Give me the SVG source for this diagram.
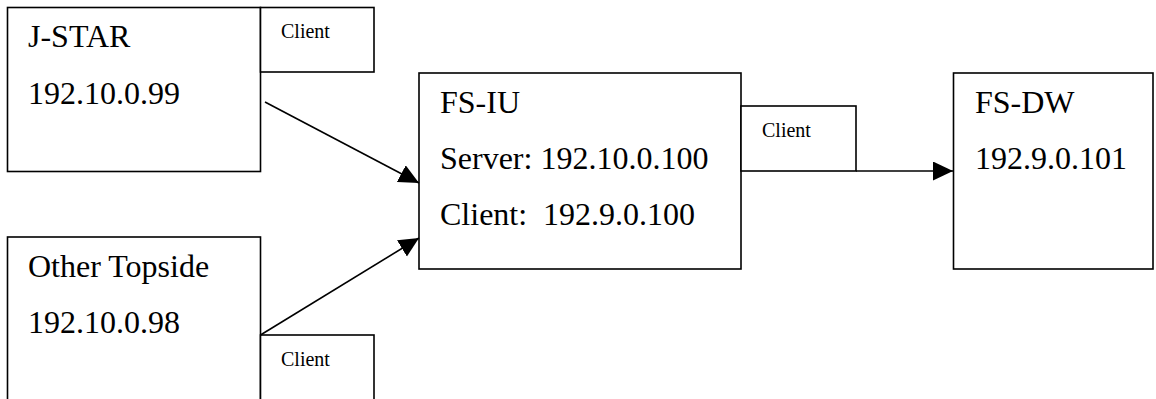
<svg xmlns="http://www.w3.org/2000/svg" width="1156" height="399" viewBox="0 0 1156 399">
  <style>
    .box { fill: #ffffff; stroke: #000000; stroke-width: 1.6; }
    .big { font-family: "Liberation Serif", "Times New Roman", serif; font-size: 32px; fill: #000000; white-space: pre; }
    .small { font-family: "Liberation Serif", "Times New Roman", serif; font-size: 20px; fill: #000000; }
    .link { fill: none; stroke: #000000; stroke-width: 1.6; }
  </style>
  <defs>
    <marker id="arrow" markerUnits="userSpaceOnUse" markerWidth="22" markerHeight="20" refX="20" refY="9.5" orient="auto">
      <path d="M0,0 L20,9.5 L0,19 Z" fill="#000000"/>
    </marker>
  </defs>
  <rect width="1156" height="399" fill="#ffffff"/>

  <g id="jstar">
    <rect class="box" x="7.5" y="7.5" width="253" height="164"/>
    <text class="big" x="28" y="47">J-STAR</text>
    <text class="big" x="28" y="104">192.10.0.99</text>
  </g>
  <g id="jstar-client">
    <rect class="box" x="260.5" y="7.5" width="113.5" height="64.5"/>
    <text class="small" x="281" y="38">Client</text>
  </g>

  <g id="other-topside">
    <rect class="box" x="7.5" y="237" width="253" height="180"/>
    <text class="big" x="28" y="277">Other Topside</text>
    <text class="big" x="28" y="333">192.10.0.98</text>
  </g>
  <g id="other-topside-client">
    <rect class="box" x="260.5" y="335" width="113.5" height="80"/>
    <text class="small" x="281" y="366">Client</text>
  </g>

  <g id="fs-iu">
    <rect class="box" x="419" y="73" width="322" height="196"/>
    <text class="big" x="440" y="113">FS-IU</text>
    <text class="big" x="440" y="169">Server: 192.10.0.100</text>
    <text class="big" x="440" y="225">Client:  192.9.0.100</text>
  </g>
  <g id="fs-iu-client">
    <rect class="box" x="741" y="106" width="115" height="65"/>
    <text class="small" x="762" y="137">Client</text>
  </g>

  <g id="fs-dw">
    <rect class="box" x="953.5" y="73" width="199.5" height="196"/>
    <text class="big" x="975" y="113">FS-DW</text>
    <text class="big" x="975" y="169">192.9.0.101</text>
  </g>

  <g id="connectors">
    <line class="link" x1="265" y1="102" x2="419" y2="183" marker-end="url(#arrow)"/>
    <line class="link" x1="260.5" y1="335" x2="419" y2="238" marker-end="url(#arrow)"/>
    <line class="link" x1="856" y1="171" x2="953" y2="171" marker-end="url(#arrow)"/>
  </g>
</svg>
